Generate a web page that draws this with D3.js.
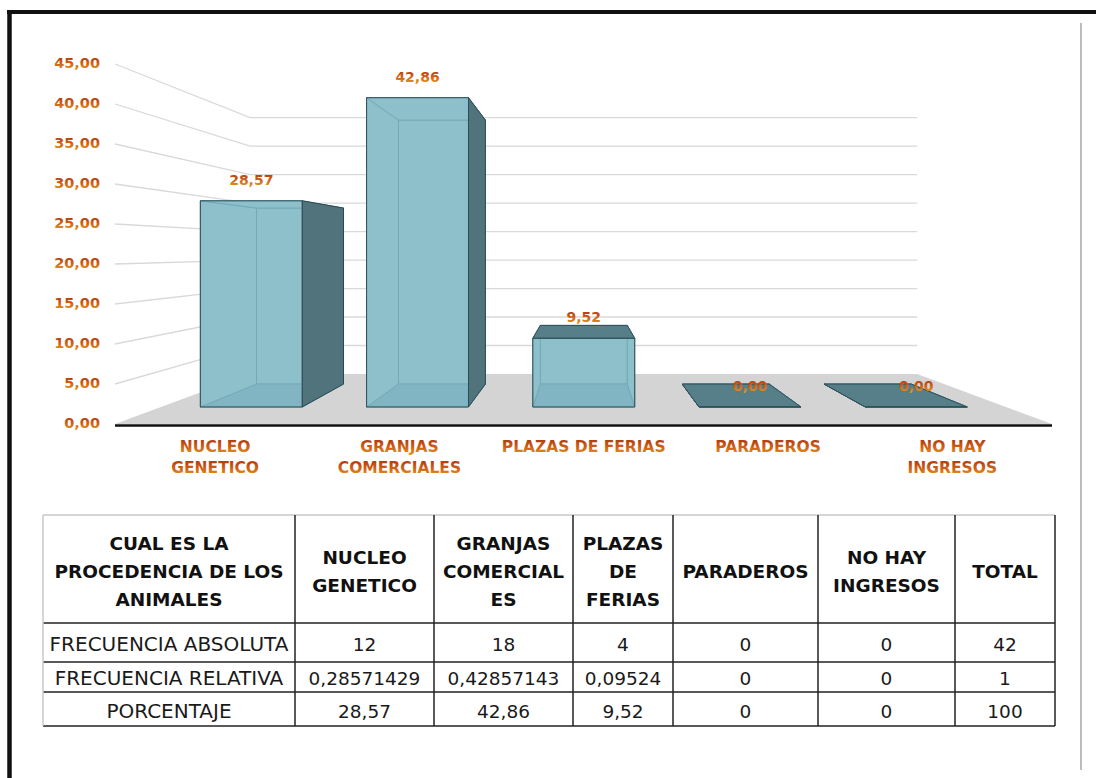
<!DOCTYPE html>
<html>
<head>
<meta charset="utf-8">
<script src="https://cdn.jsdelivr.net/npm/d3@7"></script>
<style>
  body { margin: 0; background: #fff; }
  svg { display: block; }
</style>
</head>
<body>
<div id="chart"></div>
<script>
// chart data
var categories = ["NUCLEO GENETICO", "GRANJAS COMERCIALES", "PLAZAS DE FERIAS", "PARADEROS", "NO HAY INGRESOS"];
var categoryLines = [["NUCLEO", "GENETICO"], ["GRANJAS", "COMERCIALES"], ["PLAZAS DE FERIAS"], ["PARADEROS"], ["NO HAY", "INGRESOS"]];
var porcentaje = [28.57, 42.86, 9.52, 0, 0];
var yTicks = [0, 5, 10, 15, 20, 25, 30, 35, 40, 45];

// table data
var tableHead = [
  ["CUAL ES LA", "PROCEDENCIA DE LOS", "ANIMALES"],
  ["NUCLEO", "GENETICO"],
  ["GRANJAS", "COMERCIAL", "ES"],
  ["PLAZAS", "DE", "FERIAS"],
  ["PARADEROS"],
  ["NO HAY", "INGRESOS"],
  ["TOTAL"]
];
var rowNames = ["FRECUENCIA ABSOLUTA", "FRECUENCIA RELATIVA", "PORCENTAJE"];
var freqAbsoluta = ["12", "18", "4", "0", "0", "42"];
var freqRelativa = ["0,28571429", "0,42857143", "0,09524", "0", "0", "1"];
var porcentajeRow = ["28,57", "42,86", "9,52", "0", "0", "100"];

var svgWidth = 1096, svgHeight = 778;

var svg = d3.select("#chart").append("svg")
  .attr("width", svgWidth)
  .attr("height", svgHeight);

// gradient used for the orange chart texts
var grad = svg.append("defs").append("linearGradient")
  .attr("id", "orangeTxt")
  .attr("x1", 0).attr("y1", 0).attr("x2", 0).attr("y2", 1);
grad.append("stop").attr("offset", "0%").attr("stop-color", "#a8340c");
grad.append("stop").attr("offset", "50%").attr("stop-color", "#cf5e14");
grad.append("stop").attr("offset", "100%").attr("stop-color", "#eba21d");

// frame
svg.append("line").attr("x1", 7).attr("x2", svgWidth).attr("y1", 12).attr("y2", 12)
  .attr("stroke", "#111").attr("stroke-width", 4);
svg.append("line").attr("x1", 9.5).attr("x2", 9.5).attr("y1", 10).attr("y2", svgHeight)
  .attr("stroke", "#111").attr("stroke-width", 4.5);
svg.append("line").attr("x1", 1081).attr("x2", 1081).attr("y1", 23).attr("y2", 770)
  .attr("stroke", "#bdbdbd").attr("stroke-width", 2);

// perspective settings
var VX = 584, VY = 250.3;      // vanishing point
var sBack = 0.712;              // depth of back wall
var sFront = 0.902, sRear = 0.770; // depth of the bars
function proj(x, y, s) {
  return [VX + (x - VX) * s, VY + (y - VY) * s];
}

var floorLeft = 115, floorRight = 1052;

var yScale = d3.scaleLinear().domain([0, 45]).range([424, 64]);
var xScale = d3.scaleBand().domain(categories).range([123, 1044.5])
  .paddingInner(0.387).paddingOuter(0.1935);

var fmt = function(v) { return d3.format(".2f")(v).replace(".", ","); };
var line = d3.line();

// gridlines: left wall + back wall
var grid = svg.append("g");
yTicks.filter(function(t) { return t > 0; }).forEach(function(t) {
  var yv = yScale(t);
  grid.append("path")
    .attr("d", line([proj(floorLeft, yv, 1), proj(floorLeft, yv, sBack), proj(floorRight, yv, sBack)]))
    .attr("fill", "none")
    .attr("stroke", "#d9d9d9")
    .attr("stroke-width", 1.3);
});

// floor
var y0 = yScale(0);
svg.append("path")
  .attr("d", line([proj(floorLeft, y0, 1), proj(floorRight, y0, 1), proj(floorRight, y0, sBack), proj(floorLeft, y0, sBack)]) + "Z")
  .attr("fill", "#d4d4d4");
svg.append("line")
  .attr("x1", floorLeft).attr("x2", floorRight)
  .attr("y1", y0 + 1.5).attr("y2", y0 + 1.5)
  .attr("stroke", "#111").attr("stroke-width", 2.5);

// y tick labels
svg.append("g").selectAll("text")
  .data(yTicks)
  .enter()
  .append("text")
  .attr("x", 100)
  .attr("y", function(d) { return yScale(d) - 1; })
  .attr("dy", "0.36em")
  .attr("text-anchor", "end")
  .attr("font-family", "DejaVu Sans")
  .attr("font-weight", "bold")
  .attr("font-size", "14.5px")
  .attr("fill", "url(#orangeTxt)")
  .text(fmt);

// bars drawn as glass boxes
var barsGroup = svg.append("g");
porcentaje.forEach(function(v, i) {
  var x0 = xScale(categories[i]), x1 = x0 + xScale.bandwidth();
  var yt = yScale(v), yb = yScale(0);
  var quad = function(s) {
    return [proj(x0, yb, s), proj(x1, yb, s), proj(x1, yt, s), proj(x0, yt, s)];
  };
  var f = quad(sFront), b = quad(sRear);
  var faces = {
    back: b,
    left: [f[0], b[0], b[3], f[3]],
    right: [f[1], b[1], b[2], f[2]],
    bottom: [f[0], f[1], b[1], b[0]],
    top: [f[3], f[2], b[2], b[3]]
  };
  var g = barsGroup.append("g");
  var showRight = x1 < VX, showLeft = x0 > VX, showTop = yt > VY;

  function face(pts, fill, stroke, op) {
    g.append("path")
      .attr("d", line(pts) + "Z")
      .attr("fill", fill)
      .attr("fill-opacity", op)
      .attr("stroke", stroke)
      .attr("stroke-width", 1)
      .attr("stroke-linejoin", "round");
  }
  // hidden faces seen through the glass
  face(faces.back, "#88bac6", "#5f98a6", 1);
  face(faces.bottom, "#76aab8", "#5f98a6", 1);
  if (!showLeft) face(faces.left, "#88bac6", "#5f98a6", 1);
  if (!showRight) face(faces.right, "#88bac6", "#5f98a6", 1);
  if (!showTop) face(faces.top, "#88bac6", "#5f98a6", 1);
  // visible faces
  if (showLeft) face(faces.left, "#50737c", "#2a4a53", 1);
  if (showRight) face(faces.right, "#50737c", "#2a4a53", 1);
  if (showTop) face(faces.top, "#577f89", "#2f4f58", 1);
  face(f, "#9ccbd6", "#2c4f59", 0.35);

  // value label
  var c = proj((x0 + x1) / 2, yt, sFront);
  svg.append("text")
    .attr("x", c[0])
    .attr("y", c[1] - 16)
    .attr("text-anchor", "middle")
    .attr("font-family", "DejaVu Sans")
    .attr("font-weight", "bold")
    .attr("font-size", "14px")
    .attr("fill", "url(#orangeTxt)")
    .text(fmt(v));
});

// category labels, one text per line so each line gets the gradient
var catGroup = svg.append("g");
categories.forEach(function(d, i) {
  var cx = xScale(d) + xScale.bandwidth() / 2;
  categoryLines[i].forEach(function(l, k) {
    catGroup.append("text")
      .attr("x", cx)
      .attr("y", 452 + k * 21)
      .attr("text-anchor", "middle")
      .attr("font-family", "DejaVu Sans")
      .attr("font-weight", "bold")
      .attr("font-size", "15.5px")
      .attr("fill", "url(#orangeTxt)")
      .text(l);
  });
});

// table
var colEdges = [43, 295, 434, 573, 673, 818, 955, 1055];
var rowEdges = [515, 623, 662, 692, 726];
var table = svg.append("g");

var rows = [freqAbsoluta, freqRelativa, porcentajeRow];

// header text
tableHead.forEach(function(lines, c) {
  var cx = (colEdges[c] + colEdges[c + 1]) / 2;
  var t = table.append("text")
    .attr("text-anchor", "middle")
    .attr("font-family", "DejaVu Sans")
    .attr("font-weight", "bold")
    .attr("font-size", "18.5px")
    .attr("fill", "#111");
  lines.forEach(function(l, k) {
    t.append("tspan")
      .attr("x", cx)
      .attr("y", 578 + (k - (lines.length - 1) / 2) * 28)
      .text(l);
  });
});

// body text
var baselines = [651, 685, 718];
rows.forEach(function(vals, r) {
  var cells = [rowNames[r]].concat(vals);
  table.selectAll(null)
    .data(cells)
    .enter()
    .append("text")
    .attr("x", function(d, c) { return (colEdges[c] + colEdges[c + 1]) / 2; })
    .attr("y", baselines[r])
    .attr("text-anchor", "middle")
    .attr("font-family", "DejaVu Sans")
    .attr("font-size", function(d, c) { return c === 0 ? "20px" : "18.5px"; })
    .attr("fill", "#1a1a1a")
    .text(function(d) { return d; });
});

// grid lines of the table
rowEdges.forEach(function(ry, k) {
  table.append("line")
    .attr("x1", colEdges[0]).attr("x2", colEdges[colEdges.length - 1])
    .attr("y1", ry).attr("y2", ry)
    .attr("stroke", k === 0 ? "#c8c8c8" : "#222")
    .attr("stroke-width", 1.5);
});
colEdges.forEach(function(cx, k) {
  table.append("line")
    .attr("x1", cx).attr("x2", cx)
    .attr("y1", rowEdges[0]).attr("y2", rowEdges[rowEdges.length - 1])
    .attr("stroke", k === 0 ? "#c8c8c8" : "#222")
    .attr("stroke-width", 1.5);
});
</script>
</body>
</html>
